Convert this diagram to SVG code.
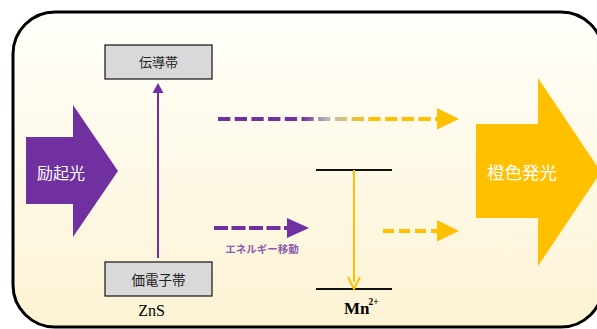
<svg xmlns="http://www.w3.org/2000/svg" width="597" height="329" viewBox="0 0 597 329">
<defs>
<linearGradient id="bg" x1="0" y1="0" x2="0" y2="1">
<stop offset="0" stop-color="#fffffa"/>
<stop offset="1" stop-color="#fdf3d4"/>
</linearGradient>
<linearGradient id="fade" gradientUnits="userSpaceOnUse" x1="218" y1="0" x2="440" y2="0">
<stop offset="0" stop-color="#7030a0"/>
<stop offset="0.38" stop-color="#7030a0"/>
<stop offset="0.5" stop-color="#c0c0c0"/>
<stop offset="0.68" stop-color="#ffc000"/>
<stop offset="1" stop-color="#ffc000"/>
</linearGradient>
<marker id="hp" markerWidth="8" markerHeight="8" refX="4" refY="8" orient="auto" markerUnits="userSpaceOnUse" viewBox="0 0 8 8">
<path d="M0,0 L8,0 L4,8 z" fill="#7030a0"/>
</marker>
</defs>
<style>
.box{fill:#d9d9d9;stroke:#222;stroke-width:1.3}
.lbl{font-family:"Noto Sans CJK JP","Noto Sans",sans-serif;fill:#222;font-size:13px;text-anchor:middle}
.big{font-family:"Noto Sans CJK JP","Noto Sans",sans-serif;fill:#fff;font-size:16px}
.ser{font-family:"Liberation Serif","Times New Roman",serif;fill:#000}
.dash{stroke-width:4;stroke-dasharray:12.3 4.4;fill:none}
</style>
<rect x="13" y="12" width="590" height="315" rx="42" fill="url(#bg)" stroke="#000" stroke-width="3"/>

<g id="excite">
<path d="M26,137 H73 V105 L118,171 L73,237 V204 H26 Z" fill="#7030a0"/>
<text class="big" x="37" y="178.5">励起光</text>
</g>

<g id="emit">
<path d="M476,124 H538 V78 L601,172 L538,266 V218 H476 Z" fill="#ffc000"/>
<text class="big" x="487" y="179" style="font-size:17.5px">橙色発光</text>
</g>

<g id="conduction">
<rect class="box" x="105" y="45" width="107" height="34"/>
<text class="lbl" x="158.5" y="66.5">伝導帯</text>
</g>

<g id="valence">
<rect class="box" x="105" y="262" width="107" height="34"/>
<text class="lbl" x="158.5" y="284.5" style="font-size:13.5px">価電子帯</text>
<text class="ser" x="151.5" y="316" font-size="16" text-anchor="middle">ZnS</text>
</g>

<g id="mn">
<line x1="316" y1="170" x2="392" y2="170" stroke="#111" stroke-width="2.2"/>
<line x1="316" y1="289" x2="392" y2="289" stroke="#111" stroke-width="2.2"/>
<text class="ser" x="344" y="314" font-size="17" font-weight="bold">Mn<tspan font-size="9.5" dy="-9" dx="-1">2+</tspan></text>
</g>

<g id="connectors">
<line x1="158" y1="258" x2="158" y2="92" stroke="#7030a0" stroke-width="2"/>
<path d="M152.5,93 L158,83 L163.5,93 Z" fill="#7030a0"/>

<line x1="354" y1="170" x2="354" y2="282" stroke="#ffc000" stroke-width="2"/>
<path d="M348,277 L354,289 L360,277" fill="none" stroke="#ffc000" stroke-width="2"/>

<line class="dash" x1="218" y1="119" x2="437" y2="119" stroke="url(#fade)"/>
<path d="M437,108 L459,119 L437,129.5 Z" fill="#ffc000"/>

<line class="dash" x1="214" y1="228" x2="288" y2="228" stroke="#7030a0" style="stroke-dasharray:14 3.5"/>
<path d="M287,218 L309,228 L287,238 Z" fill="#7030a0"/>
<text x="262" y="253" text-anchor="middle" font-family="'Noto Sans CJK JP','Noto Sans',sans-serif" font-size="10.5" font-weight="bold" fill="#8a5cb0">エネルギー移動</text>

<line class="dash" x1="383" y1="231" x2="438" y2="231" stroke="#ffc000" style="stroke-dasharray:11 5"/>
<path d="M437,220 L459,231 L437,241.5 Z" fill="#ffc000"/>
</g>
</svg>
